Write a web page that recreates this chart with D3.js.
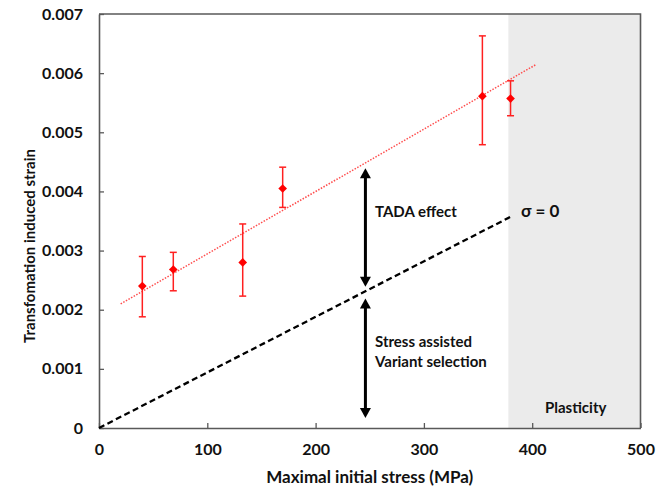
<!DOCTYPE html>
<html>
<head>
<meta charset="utf-8">
<script src="https://cdn.jsdelivr.net/npm/d3@7"></script>
<style>
  body { margin: 0; background: #fff; }
  text { font-family: Lato, "Open Sans", sans-serif; font-weight: bold; fill: #111; }
</style>
</head>
<body>
<div id="chart"></div>
<script>
// measured points
var stress = [40, 68.6, 132.7, 169.6, 354, 380];
var strain = [0.0024, 0.00268, 0.0028, 0.00405, 0.00561, 0.00557];
var errLow = [0.00188, 0.00232, 0.00223, 0.00373, 0.00479, 0.00528];
var errHigh = [0.0029, 0.00297, 0.00345, 0.00441, 0.00663, 0.00587];

// trend line (red dotted) and sigma = 0 line (black dashed)
var fitX = [20, 404];
var fitY = [0.0021, 0.00615];
var zeroX = [0, 381];
var zeroY = [0, 0.00358];

// plasticity zone
var plasticFrom = 378;
var plasticTo = 500;

// arrows
var arrowX = 246;
var tadaArrow = [0.00439, 0.00239];
var stressArrow = [0.00219, 0.00017];

var xTicks = [0, 100, 200, 300, 400, 500];
var yTicks = [0, 0.001, 0.002, 0.003, 0.004, 0.005, 0.006, 0.007];

var W = 670, H = 489;
var margin = {top: 14, right: 29.5, bottom: 61, left: 99};
var w = W - margin.left - margin.right;
var h = H - margin.top - margin.bottom;

var svg = d3.select("#chart").append("svg")
    .attr("width", W)
    .attr("height", H);

var g = svg.append("g")
    .attr("transform", "translate(" + margin.left + "," + margin.top + ")");

var x = d3.scaleLinear().domain([0, 500]).range([0, w]);
var y = d3.scaleLinear().domain([0, 0.007]).range([h, 0]);

// grey plasticity band
g.append("rect")
    .attr("x", x(plasticFrom))
    .attr("y", y(0.007))
    .attr("width", x(plasticTo) - x(plasticFrom))
    .attr("height", y(0) - y(0.007))
    .attr("fill", "#ebebeb");

// axes, ticks pointing inward
var xAxis = g.append("g")
    .attr("transform", "translate(0," + h + ")")
    .call(d3.axisBottom(x).tickValues(xTicks).tickSizeInner(-5).tickSizeOuter(0).tickPadding(16)
        .tickFormat(d3.format("d")));
var yAxis = g.append("g")
    .call(d3.axisLeft(y).tickValues(yTicks).tickSizeInner(-5).tickSizeOuter(0).tickPadding(16)
        .tickFormat(function(d){ return d === 0 ? "0" : d3.format(".3f")(d); }));

[xAxis, yAxis].forEach(function(a){
    a.select(".domain").attr("stroke", "#595959").attr("stroke-width", 1.6);
    a.selectAll(".tick line").attr("stroke", "#595959").attr("stroke-width", 1.3);
    a.selectAll(".tick text").attr("font-size", 16).attr("font-family", "Lato, sans-serif")
        .attr("font-weight", "bold").attr("fill", "#111");
});

// top and right border
g.append("path")
    .attr("d", "M0," + y(0.007) + "H" + x(500) + "V" + y(0))
    .attr("fill", "none")
    .attr("stroke", "#595959")
    .attr("stroke-width", 1.6);

// sigma = 0 dashed line
var line = d3.line().x(function(d){ return x(d[0]); }).y(function(d){ return y(d[1]); });
g.append("path")
    .attr("d", line(d3.zip(zeroX, zeroY)))
    .attr("fill", "none")
    .attr("stroke", "#000")
    .attr("stroke-width", 2.3)
    .attr("stroke-dasharray", "6,3.5");

// red dotted trend line
g.append("path")
    .attr("d", line(d3.zip(fitX, fitY)))
    .attr("fill", "none")
    .attr("stroke", "#ff4d4d")
    .attr("stroke-width", 1.5)
    .attr("stroke-dasharray", "1.5,1.5");

// error bars
var pts = d3.range(stress.length);
var eb = g.selectAll(".err").data(pts).enter().append("g").attr("class", "err")
    .attr("stroke", "#ff2020").attr("stroke-width", 1.5);
eb.append("line")
    .attr("x1", function(i){ return x(stress[i]); })
    .attr("x2", function(i){ return x(stress[i]); })
    .attr("y1", function(i){ return y(errLow[i]); })
    .attr("y2", function(i){ return y(errHigh[i]); });
eb.append("line")
    .attr("x1", function(i){ return x(stress[i]) - 3.5; })
    .attr("x2", function(i){ return x(stress[i]) + 3.5; })
    .attr("y1", function(i){ return y(errLow[i]); })
    .attr("y2", function(i){ return y(errLow[i]); });
eb.append("line")
    .attr("x1", function(i){ return x(stress[i]) - 3.5; })
    .attr("x2", function(i){ return x(stress[i]) + 3.5; })
    .attr("y1", function(i){ return y(errHigh[i]); })
    .attr("y2", function(i){ return y(errHigh[i]); });

// diamond markers
g.selectAll(".pt").data(pts).enter().append("path")
    .attr("class", "pt")
    .attr("d", d3.symbol().type(d3.symbolDiamond2).size(48))
    .attr("transform", function(i){ return "translate(" + x(stress[i]) + "," + y(strain[i]) + ")"; })
    .attr("fill", "#ff0000");

// double headed arrows
function arrow(y1, y2) {
    var top = y(y1), bot = y(y2), cx = x(arrowX), hl = 10, hw = 5.5;
    g.append("line")
        .attr("x1", cx).attr("x2", cx)
        .attr("y1", top + hl - 1).attr("y2", bot - hl + 1)
        .attr("stroke", "#000").attr("stroke-width", 3);
    g.append("path")
        .attr("d", "M" + cx + "," + top + "L" + (cx - hw) + "," + (top + hl) + "L" + (cx + hw) + "," + (top + hl) + "Z")
        .attr("fill", "#000");
    g.append("path")
        .attr("d", "M" + cx + "," + bot + "L" + (cx - hw) + "," + (bot - hl) + "L" + (cx + hw) + "," + (bot - hl) + "Z")
        .attr("fill", "#000");
}
arrow(tadaArrow[0], tadaArrow[1]);
arrow(stressArrow[0], stressArrow[1]);

// annotations
function label(txt, px, py, size) {
    svg.append("text")
        .attr("x", px).attr("y", py)
        .attr("font-size", size || 15)
        .text(txt);
}
label("TADA effect", 375, 217);
label("σ = 0", 521, 217, 17);
label("Stress assisted", 375, 347);
label("Variant selection", 375, 367);
label("Plasticity", 545, 413);

// axis titles
svg.append("text")
    .attr("x", margin.left + w / 2)
    .attr("y", 483)
    .attr("text-anchor", "middle")
    .attr("font-size", 17)
    .text("Maximal initial stress (MPa)");
svg.append("text")
    .attr("transform", "translate(35,246) rotate(-90)")
    .attr("text-anchor", "middle")
    .attr("font-size", 15)
    .text("Transfomation induced strain");
</script>
</body>
</html>
